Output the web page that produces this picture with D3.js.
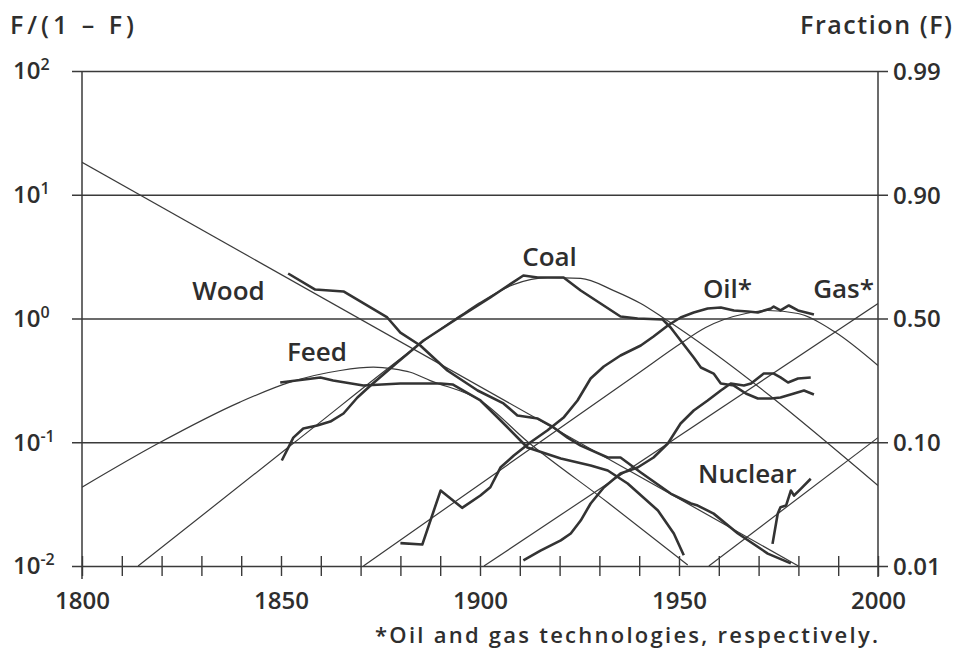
<!DOCTYPE html>
<html>
<head>
<meta charset="utf-8">
<script src="https://cdn.jsdelivr.net/npm/d3@7"></script>
<style>
  body { margin: 0; background: #fff; }
  text { font-family: "Open Sans", "DejaVu Sans", sans-serif; fill: #2e2e2e; }
</style>
</head>
<body>
<script>
// tick labels
var xTickYears = d3.range(1800, 2001, 10);
var xLabelYears = [1800, 1850, 1900, 1950, 2000];
var yTickValues = [100, 10, 1, 0.1, 0.01];
var yExponents = ["2", "1", "0", "-1", "-2"];
var fractionLabels = ["0.99", "0.90", "0.50", "0.10", "0.01"];

// observed shares, as F/(1-F), [year, value]
var woodData = [[1851.8, 2.31], [1858.6, 1.715], [1865.7, 1.653], [1876.7, 1.019], [1880, 0.77],
    [1885, 0.605], [1891.8, 0.38], [1899.4, 0.262], [1905.9, 0.206], [1909.4, 0.1645],
    [1914.5, 0.1555], [1918.5, 0.1316], [1922, 0.109], [1925.3, 0.094], [1932.1, 0.0753],
    [1935.3, 0.0753], [1940.4, 0.057], [1947.9, 0.0385], [1953, 0.032], [1954.7, 0.0308],
    [1958.7, 0.0265], [1964.8, 0.0183], [1972.3, 0.0126], [1978.1, 0.0105]];
var feedData = [[1849.8, 0.304], [1859.9, 0.334], [1863.1, 0.3155], [1870.7, 0.2874], [1880, 0.2984],
    [1890.1, 0.2984], [1893.1, 0.2929], [1900.1, 0.2175], [1905.2, 0.15], [1911.9, 0.0907],
    [1920.3, 0.0739], [1927.8, 0.0649], [1932.1, 0.0591], [1937.1, 0.0464], [1944.7, 0.0281],
    [1948.7, 0.0183], [1951.2, 0.0122]];
var coalData = [[1850.2, 0.0712], [1853.1, 0.109], [1855.6, 0.129], [1859.1, 0.1366], [1862.4, 0.147],
    [1865.7, 0.1707], [1869.2, 0.23], [1872.5, 0.2874], [1879.2, 0.441], [1885.8, 0.664],
    [1894.3, 1.0], [1902.6, 1.478], [1905.2, 1.684], [1910.9, 2.226], [1914.5, 2.145],
    [1921, 2.145], [1925.3, 1.684], [1930.3, 1.322], [1935.3, 1.038], [1939.6, 1.0],
    [1945.9, 0.981], [1947.9, 0.846], [1950.4, 0.664], [1953.7, 0.484], [1955.5, 0.402],
    [1958.7, 0.359], [1960.5, 0.298], [1963.8, 0.287], [1966.8, 0.2477], [1969.8, 0.2257],
    [1973.1, 0.2257], [1975.5, 0.23], [1978.9, 0.2477], [1981.4, 0.262], [1983.9, 0.243]];
var oilData = [[1880, 0.0153], [1885.5, 0.0149], [1890.1, 0.0407], [1895.5, 0.0295], [1900.1, 0.0371],
    [1902.6, 0.0433], [1905.2, 0.0629], [1908.5, 0.0781], [1912.7, 0.1], [1916.9, 0.1245],
    [1921.1, 0.1594], [1924.5, 0.2175], [1927.8, 0.3273], [1931.1, 0.4094], [1935.3, 0.5023],
    [1940.4, 0.605], [1943.6, 0.7153], [1947.2, 0.878], [1950.4, 1.019], [1953.7, 1.118],
    [1957.2, 1.205], [1960.5, 1.227], [1963.8, 1.161], [1967.3, 1.139], [1969.8, 1.118],
    [1973.1, 1.205], [1973.8, 1.25], [1975.5, 1.161], [1977.6, 1.274], [1979.9, 1.161],
    [1983.9, 1.077]];
var gasData = [[1910.9, 0.0111], [1915.2, 0.0133], [1920.3, 0.0161], [1922.8, 0.0183], [1925.3, 0.0233],
    [1927.8, 0.032], [1931.1, 0.0431], [1935.3, 0.0559], [1939.6, 0.0625], [1943.6, 0.0753],
    [1947.2, 0.0977], [1950.4, 0.1418], [1953.7, 0.1805], [1957.2, 0.2175], [1960.5, 0.262],
    [1963, 0.2984], [1966.3, 0.2874], [1968.1, 0.2984], [1971.3, 0.359], [1973.8, 0.359],
    [1975.5, 0.334], [1977.4, 0.304], [1979.9, 0.327], [1983.1, 0.334]];
var nuclearData = [[1973.5, 0.0151], [1974.8, 0.0264], [1975.5, 0.0299], [1976.9, 0.0308],
    [1978.1, 0.0407], [1978.9, 0.0371], [1980.6, 0.042], [1983.1, 0.0507]];

// fitted substitution curves, [year, value]
var woodFit = [[1800, 18.3], [1980, 0.01]];
var feedFit = [[1800, 0.0433], [1819.2, 0.098], [1839.7, 0.211], [1852.3, 0.306], [1864.9, 0.38],
    [1873.2, 0.404], [1878.2, 0.392], [1882.5, 0.368], [1887.5, 0.315], [1900.1, 0.2175],
    [1911.9, 0.1014], [1932.1, 0.0326], [1952.2, 0.0102]];
var coalFit = [[1814.1, 0.01], [1853.1, 0.098], [1895.1, 1.06], [1900.1, 1.35], [1908.4, 1.88],
    [1917, 2.14], [1925.3, 2.11], [1933.6, 1.68], [1940.4, 1.32], [1945.9, 1.02], [2000, 0.0447]];
var oilFit = [[1870.7, 0.01], [1940.4, 0.373], [1950.4, 0.628], [1956.7, 0.846], [1961.3, 0.981],
    [1966.8, 1.098], [1972.3, 1.161], [1979.9, 1.098], [1989, 0.785], [2000, 0.417]];
var gasFit = [[1901, 0.01], [2000, 1.32]];
var nuclearFit = [[1957.5, 0.01], [2000, 0.109]];

var seriesNames = ["Wood", "Feed", "Coal", "Oil*", "Gas*", "Nuclear"];
var labelYears = [1827.7, 1851.5, 1910.6, 1956, 1983.7, 1954.8];
var labelValues = [1.41, 0.4535, 2.656, 1.465, 1.465, 0.0468];

var width = 956;
var height = 657;

var svg = d3.select('body')
    .append('svg')
    .attr('width', width)
    .attr('height', height);

var x = d3.scaleLinear().domain([1800, 2000]).range([82, 878]);
var y = d3.scaleLog().domain([0.01, 100]).range([566, 71]);

var ink = '#3a3a3a';

// horizontal grid + left labels
var left = svg.append('g')
    .attr('transform', 'translate(72,0)')
    .call(d3.axisLeft(y).tickValues(yTickValues).tickSize(-(888 - 72)).tickPadding(0));
left.select('.domain').remove();
left.selectAll('.tick line').attr('stroke', ink).attr('stroke-width', 1.5);
left.selectAll('.tick text')
    .attr('text-anchor', 'start')
    .attr('x', 13 - 72)
    .attr('dy', '0.33em')
    .attr('font-size', 24)
    .attr('font-weight', 600)
    .attr('fill', '#2e2e2e')
    .each(function (d, i) {
        var t = d3.select(this).text(null);
        t.append('tspan').text('10');
        t.append('tspan')
            .attr('font-size', 16)
            .attr('dy', -9)
            .text(yExponents[i]);
    });

// right labels
var right = svg.append('g')
    .attr('transform', 'translate(888,0)')
    .call(d3.axisRight(y).tickValues(yTickValues).tickSize(0).tickPadding(5)
        .tickFormat(function (d, i) { return fractionLabels[i]; }));
right.select('.domain').remove();
right.selectAll('.tick text')
    .attr('font-size', 24)
    .attr('font-weight', 600)
    .attr('fill', '#2e2e2e')
    .attr('dy', '0.35em');

// bottom ticks
var bottom = svg.append('g')
    .attr('transform', 'translate(0,' + (y(0.01) - 10) + ')')
    .call(d3.axisBottom(x).tickValues(xTickYears).tickSize(20)
        .tickFormat(function (d) { return xLabelYears.indexOf(d) >= 0 ? d : ''; }));
bottom.select('.domain').remove();
bottom.selectAll('.tick line').attr('stroke', ink).attr('stroke-width', 1.4);
bottom.selectAll('.tick text')
    .attr('y', 36)
    .attr('dy', '0.71em')
    .attr('font-size', 24)
    .attr('font-weight', 600)
    .attr('fill', '#2e2e2e');

// vertical frame lines
svg.append('line')
    .attr('x1', x(1800)).attr('x2', x(1800))
    .attr('y1', y(100)).attr('y2', y(0.01) + 13)
    .attr('stroke', ink).attr('stroke-width', 1.5);
svg.append('line')
    .attr('x1', x(2000)).attr('x2', x(2000))
    .attr('y1', y(100)).attr('y2', y(0.01) + 11)
    .attr('stroke', ink).attr('stroke-width', 1.5);

svg.append('clipPath')
    .attr('id', 'plot')
    .append('rect')
    .attr('x', x(1800)).attr('y', y(100))
    .attr('width', x(2000) - x(1800))
    .attr('height', y(0.01) - y(100));

var plot = svg.append('g').attr('clip-path', 'url(#plot)');

var straight = d3.line().x(function (d) { return x(d[0]); }).y(function (d) { return y(d[1]); });
var smooth = d3.line().curve(d3.curveMonotoneX)
    .x(function (d) { return x(d[0]); }).y(function (d) { return y(d[1]); });

[woodFit, gasFit, nuclearFit].forEach(function (s) {
    plot.append('path').attr('d', straight(s))
        .attr('fill', 'none').attr('stroke', ink).attr('stroke-width', 1.2);
});
[feedFit, coalFit, oilFit].forEach(function (s) {
    plot.append('path').attr('d', smooth(s))
        .attr('fill', 'none').attr('stroke', ink).attr('stroke-width', 1.2);
});
[woodData, feedData, coalData, oilData, gasData, nuclearData].forEach(function (s) {
    plot.append('path').attr('d', straight(s))
        .attr('fill', 'none').attr('stroke', '#333').attr('stroke-width', 2.6)
        .attr('stroke-linejoin', 'round');
});

// series labels
seriesNames.forEach(function (name, i) {
    svg.append('text')
        .attr('x', x(labelYears[i]))
        .attr('y', y(labelValues[i]))
        .attr('font-size', 26)
        .attr('font-weight', 600)
        .text(name);
});

// titles
svg.append('text')
    .attr('x', 10).attr('y', 34)
    .attr('font-size', 25).attr('font-weight', 600)
    .attr('textLength', 124).attr('lengthAdjust', 'spacing')
    .text('F/(1 \u2013 F)');
svg.append('text')
    .attr('x', 800).attr('y', 34)
    .attr('font-size', 25).attr('font-weight', 600)
    .attr('textLength', 152).attr('lengthAdjust', 'spacing')
    .text('Fraction (F)');
svg.append('text')
    .attr('x', 375).attr('y', 643)
    .attr('font-size', 22).attr('font-weight', 600)
    .attr('textLength', 503).attr('lengthAdjust', 'spacing')
    .text('*Oil and gas technologies, respectively.');
</script>
</body>
</html>
